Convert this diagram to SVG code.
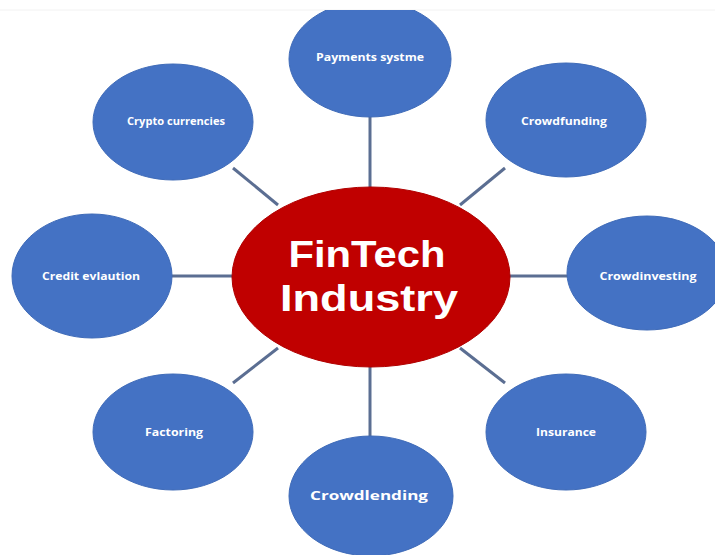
<svg xmlns="http://www.w3.org/2000/svg" width="715" height="555" viewBox="0 0 715 555">
  <defs>
    <style>
      .sat { fill: #4472c4; stroke: #3f6bb8; stroke-width: 1; }
      .hub { fill: #c00000; stroke: #b00000; stroke-width: 1; }
      .lbl { font-family: "Open Sans", "Liberation Sans", sans-serif; font-weight: bold; fill: #ffffff; text-anchor: middle; dominant-baseline: central; font-size: 10px; }
      .big { font-family: "Liberation Sans", "Open Sans", sans-serif; font-weight: bold; fill: #ffffff; text-anchor: middle; font-size: 37px; }
      .link { stroke: #5b6e92; stroke-width: 3; fill: none; }
    </style>
    <clipPath id="page">
      <rect x="0" y="10" width="715" height="545"/>
    </clipPath>
  </defs>

  <rect width="715" height="555" fill="#ffffff"/>
  <line x1="0" y1="10" x2="715" y2="10" stroke="#f2f2f2" stroke-width="1"/>

  <g clip-path="url(#page)">
    <!-- spokes -->
    <g id="connectors">
      <line class="link" x1="370" y1="116" x2="370" y2="188"/>
      <line class="link" x1="370" y1="366" x2="370" y2="438"/>
      <line class="link" x1="172" y1="276" x2="233" y2="276"/>
      <line class="link" x1="509" y1="276" x2="568" y2="276"/>
      <line class="link" x1="233" y1="168" x2="278" y2="205"/>
      <line class="link" x1="505" y1="168" x2="460" y2="205"/>
      <line class="link" x1="233" y1="383" x2="278" y2="348"/>
      <line class="link" x1="460" y1="348" x2="505" y2="383"/>
    </g>

    <g id="payments">
      <ellipse class="sat" cx="370" cy="59" rx="81" ry="58"/>
      <text class="lbl" x="370" y="57" textLength="108" lengthAdjust="spacingAndGlyphs">Payments systme</text>
    </g>
    <g id="crypto">
      <ellipse class="sat" cx="173" cy="122" rx="80" ry="58"/>
      <text class="lbl" x="176" y="121" textLength="98" lengthAdjust="spacingAndGlyphs">Crypto currencies</text>
    </g>
    <g id="crowdfunding">
      <ellipse class="sat" cx="566" cy="120" rx="80" ry="57"/>
      <text class="lbl" x="564" y="121" textLength="86" lengthAdjust="spacingAndGlyphs">Crowdfunding</text>
    </g>
    <g id="credit">
      <ellipse class="sat" cx="92" cy="276" rx="80" ry="62"/>
      <text class="lbl" x="91" y="276" textLength="98" lengthAdjust="spacingAndGlyphs">Credit evlaution</text>
    </g>
    <g id="crowdinvesting">
      <ellipse class="sat" cx="647" cy="273" rx="80" ry="57"/>
      <text class="lbl" x="648" y="276" textLength="97" lengthAdjust="spacingAndGlyphs">Crowdinvesting</text>
    </g>
    <g id="factoring">
      <ellipse class="sat" cx="173" cy="432" rx="80" ry="58"/>
      <text class="lbl" x="174" y="432" textLength="58" lengthAdjust="spacingAndGlyphs">Factoring</text>
    </g>
    <g id="insurance">
      <ellipse class="sat" cx="566" cy="432" rx="80" ry="58"/>
      <text class="lbl" x="566" y="432" textLength="60" lengthAdjust="spacingAndGlyphs">Insurance</text>
    </g>
    <g id="crowdlending">
      <ellipse class="sat" cx="371" cy="496" rx="82" ry="60"/>
      <text class="lbl" x="369" y="495" style="font-size:13px" textLength="118" lengthAdjust="spacingAndGlyphs">Crowdlending</text>
    </g>

    <g id="fintech">
      <ellipse class="hub" cx="371" cy="277" rx="139" ry="90"/>
      <text class="big" x="367" y="267" textLength="157" lengthAdjust="spacingAndGlyphs">FinTech</text>
      <text class="big" x="369" y="311" textLength="178" lengthAdjust="spacingAndGlyphs">Industry</text>
    </g>
  </g>
</svg>
